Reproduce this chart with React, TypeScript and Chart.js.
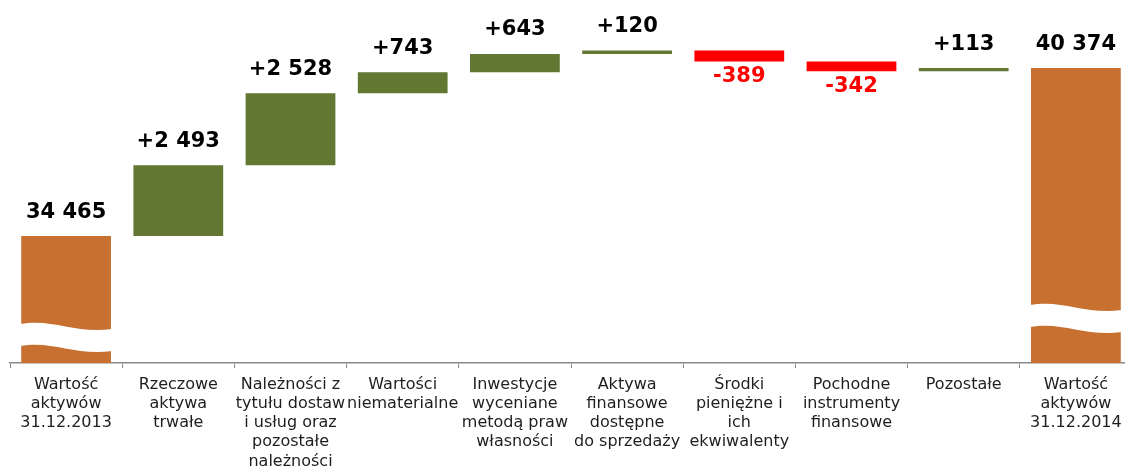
import React, { useEffect, useRef } from "react";
import { Chart, registerables } from "chart.js";

Chart.register(...registerables);

const categories: string[][] = [
  ["Wartość", "aktywów", "31.12.2013"],
  ["Rzeczowe", "aktywa", "trwałe"],
  ["Należności z", "tytułu dostaw", "i usług oraz", "pozostałe", "należności"],
  ["Wartości", "niematerialne"],
  ["Inwestycje", "wyceniane", "metodą praw", "własności"],
  ["Aktywa", "finansowe", "dostępne", "do sprzedaży"],
  ["Środki", "pieniężne i", "ich", "ekwiwalenty"],
  ["Pochodne", "instrumenty", "finansowe"],
  ["Pozostałe"],
  ["Wartość", "aktywów", "31.12.2014"],
];

const startValue = 34465;
const changes = [2493, 2528, 743, 643, 120, -389, -342, 113];
const endValue = 40374;

const axisMin = 30000;
const axisMax = 42770;

const ORANGE = "#C87030";
const GREEN = "#617732";
const RED = "#FF0000";

function fmtNum(v: number): string {
  return Math.abs(v)
    .toString()
    .replace(/\B(?=(\d{3})+(?!\d))/g, " ");
}

// Build floating ranges from the data
const ranges: [number, number][] = [];
const kinds: string[] = [];
const labelsText: string[] = [];
ranges.push([axisMin, startValue]);
kinds.push("total");
labelsText.push(fmtNum(startValue));
let running = startValue;
for (const c of changes) {
  ranges.push([running, running + c]);
  kinds.push(c >= 0 ? "up" : "down");
  labelsText.push((c >= 0 ? "+" : "-") + fmtNum(c));
  running += c;
}
ranges.push([axisMin, endValue]);
kinds.push("total");
labelsText.push(fmtNum(endValue));

const colors = kinds.map((k) => (k === "total" ? ORANGE : k === "up" ? GREEN : RED));

const overlayPlugin = {
  id: "waterfallOverlay",
  afterDatasetsDraw(chart: any) {
    const ctx = chart.ctx as CanvasRenderingContext2D;
    const meta = chart.getDatasetMeta(0);
    meta.data.forEach((bar: any, i: number) => {
      const p = bar.getProps(["x", "y", "base", "width"], true);
      const top = Math.min(p.y, p.base);
      const bottom = Math.max(p.y, p.base);
      const L = p.x - p.width / 2;
      const R = p.x + p.width / 2;
      const w = R - L;

      // axis break wave on the total bars
      if (kinds[i] === "total") {
        const c = i === 0 ? bottom - 26 : bottom - 45;
        ctx.save();
        ctx.fillStyle = "#ffffff";
        ctx.beginPath();
        ctx.moveTo(L - 1, c - 13);
        ctx.bezierCurveTo(L + 0.35 * w, c - 19, L + 0.6 * w, c - 3, R + 1, c - 8);
        ctx.lineTo(R + 1, c + 14);
        ctx.bezierCurveTo(L + 0.6 * w, c + 19, L + 0.35 * w, c + 3, L - 1, c + 9);
        ctx.closePath();
        ctx.fill();
        ctx.restore();
      }

      // value labels
      ctx.save();
      ctx.font = "bold 21px 'DejaVu Sans'";
      ctx.textAlign = "center";
      ctx.textBaseline = "middle";
      if (kinds[i] === "down") {
        ctx.fillStyle = RED;
        ctx.fillText(labelsText[i], p.x, bottom + 15);
      } else {
        ctx.fillStyle = "#000000";
        ctx.fillText(labelsText[i], p.x, top - 24);
      }
      ctx.restore();
    });
  },
};

export default function App() {
  const canvasRef = useRef<HTMLCanvasElement | null>(null);

  useEffect(() => {
    if (!canvasRef.current) return;
    const chart = new Chart(canvasRef.current, {
      type: "bar",
      data: {
        labels: categories as any,
        datasets: [
          {
            data: ranges as any,
            backgroundColor: colors,
            borderWidth: 0,
            categoryPercentage: 1,
            barPercentage: 0.8,
          },
        ],
      },
      options: {
        animation: false,
        responsive: false,
        maintainAspectRatio: false,
        layout: { padding: { left: 10, right: 0, top: 0, bottom: 0 } },
        plugins: {
          legend: { display: false },
          tooltip: { enabled: false },
          title: { display: false },
        },
        scales: {
          y: {
            display: false,
            min: axisMin,
            max: axisMax,
          },
          x: {
            offset: true,
            afterFit: (scale: any) => {
              scale.height = 103;
            },
            border: { display: true, color: "#8a8a8a", width: 1.5 },
            grid: {
              display: true,
              offset: true,
              drawOnChartArea: false,
              drawTicks: true,
              tickLength: 5,
              color: "#8a8a8a",
              lineWidth: 1,
            },
            ticks: {
              autoSkip: false,
              maxRotation: 0,
              minRotation: 0,
              padding: 7,
              color: "#1e1e1e",
              font: { family: "'DejaVu Sans'", size: 16, lineHeight: 1.2 },
            },
          },
        },
      },
      plugins: [overlayPlugin],
    });
    return () => chart.destroy();
  }, []);

  return (
    <div
      style={{
        position: "fixed",
        left: 0,
        top: 0,
        width: 1125,
        height: 466,
        overflow: "hidden",
        background: "#ffffff",
      }}
    >
      <canvas ref={canvasRef} width={1132} height={466} style={{ display: "block" }} />
    </div>
  );
}
